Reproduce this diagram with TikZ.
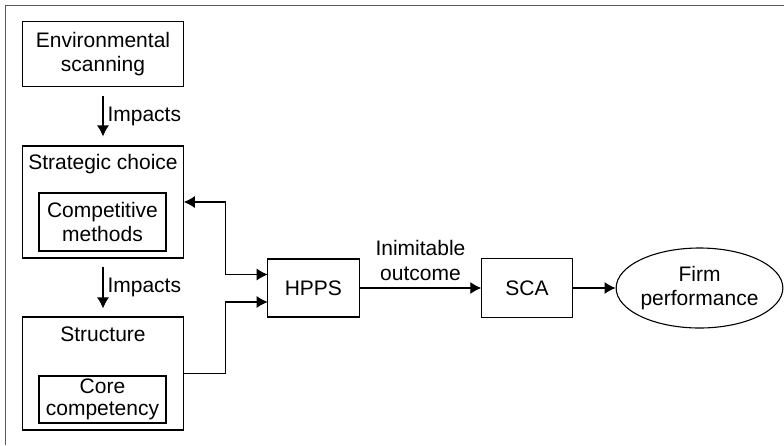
\documentclass[tikz,border=0pt]{standalone}
\usepackage{fontspec}
\setmainfont{Liberation Sans}
\usepackage{tikz}
\usetikzlibrary{arrows.meta,shapes.geometric}
\tikzset{tip/.style={-{Latex[length=11pt,width=12pt]}},
  tips/.style={{Latex[length=11pt,width=12pt]}-{Latex[length=11pt,width=12pt]}},
  blk/.style={draw,line width=1.1pt,align=center,inner sep=0pt},
  txt/.style={align=center,inner sep=0pt}}

\begin{document}
\begin{tikzpicture}[x=1pt,y=-1pt,line width=1.1pt,font=\fontsize{21}{24.5}\selectfont]
      \useasboundingbox (0,0) rectangle (784,445);
      \draw [gray!70!black,line width=1.5pt] (5.5,445) -- (5.5,5.5) -- (784,5.5);
      \node [blk,minimum width=160.5pt,minimum height=65pt] (env) at (103,54) {Environmental\\scanning};
      \node [blk,minimum width=160.5pt,minimum height=112pt] (strat) at (103,202) {};
      \node [txt] (stratlbl) at (103,164) {Strategic choice};
      \node [blk,minimum width=127pt,minimum height=58pt] (comp) at (102.5,222) {Competitive\\methods};
      \node [blk,minimum width=160.5pt,minimum height=113pt] (struct) at (103,373.5) {};
      \node [txt] (structlbl) at (103,334) {Structure};
      \node [blk,minimum width=127pt,minimum height=47pt,font=\fontsize{21}{22}\selectfont] (core) at (102.5,399.5) {Core\\competency};
      \node [blk,minimum width=91.3pt,minimum height=58pt] (hpps) at (313.4,288) {HPPS};
      \node [blk,minimum width=90.3pt,minimum height=59pt] (sca) at (527,288) {SCA};
      \node [blk,ellipse,minimum width=153pt,minimum height=80pt] (firm) at (699.5,288) {Firm\\performance};
      \draw [tip,shorten <=9pt,shorten >=9pt] (env) -- (strat) node [pos=0.5,right=4pt,txt] (imp1) {Impacts};
      \draw [tip,shorten <=8pt,shorten >=8pt] (strat) -- (struct) node [pos=0.5,right=4pt,txt] (imp2) {Impacts};
      \coordinate (hin1) at (267.7,274.5);
      \coordinate (hin2) at (267.7,302);
      \draw [tips] (strat.east) -| (225.7,274.5) -- (hin1);
      \draw [tip] (struct.east) -| (225.7,302) -- (hin2);
      \draw [tip] (hpps) -- (sca) node [midway,above=7pt,txt] (inim) {Inimitable\\outcome};
      \draw [tip] (sca) -- (firm);
      \end{tikzpicture}
\end{document}
